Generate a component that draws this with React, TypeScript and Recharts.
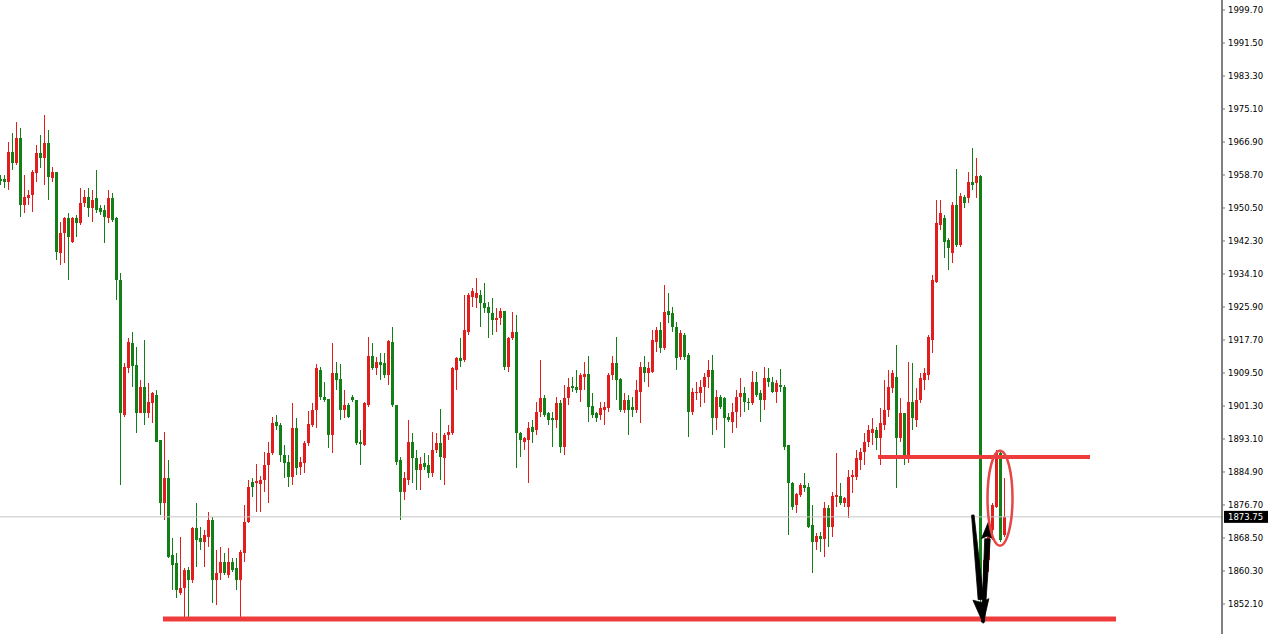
// Gold-style candle chart: ~250 candles with a right-hand price scale, support/resistance
// lines, the last-price tag and the hand-drawn arrow/ellipse annotations.
import { ComposedChart, Bar, XAxis, YAxis, ReferenceLine, ReferenceDot } from "recharts";

const W = 1270;
const H = 634;

const RED = "#e21d1d";
const GREEN = "#137f17";
const LINE_RED = "#ee3c3c";

// prices, one entry per candle
const OPEN = [
  1957.7, 1957.7, 1957.0, 1964.4, 1961.6, 1967.9, 1951.2, 1953.0, 1953.7, 1959.2,
  1964.1, 1962.9, 1966.6, 1958.0, 1959.5, 1939.3, 1944.3, 1948.0, 1942.1, 1948.0,
  1946.7, 1951.7, 1953.2, 1950.5, 1953.0, 1950.5, 1950.0, 1948.0, 1953.0, 1948.0,
  1932.6, 1899.0, 1910.8, 1916.9, 1911.5, 1899.5, 1906.0, 1899.5, 1902.0, 1904.0,
  1892.9, 1877.2, 1883.4, 1864.2, 1862.3, 1854.8, 1856.1, 1860.6, 1858.1, 1871.0,
  1868.5, 1867.5, 1868.7, 1873.0, 1858.1, 1859.8, 1862.6, 1859.3, 1862.6, 1861.1,
  1858.1, 1864.7, 1872.5, 1882.4, 1882.1, 1881.9, 1882.9, 1886.6, 1889.6, 1897.3,
  1896.5, 1889.1, 1887.4, 1883.6, 1895.9, 1886.1, 1887.1, 1892.1, 1896.5, 1900.3,
  1910.3, 1903.5, 1903.0, 1894.1, 1909.5, 1908.0, 1900.3, 1901.5, 1903.5, 1902.8,
  1892.4, 1891.6, 1901.5, 1913.7, 1910.8, 1912.2, 1912.0, 1909.0, 1917.2, 1901.5,
  1887.9, 1879.9, 1882.9, 1892.4, 1888.4, 1885.4, 1887.1, 1886.6, 1884.6, 1890.4,
  1892.1, 1888.4, 1894.1, 1894.6, 1910.3, 1913.2, 1912.7, 1919.7, 1928.4, 1928.2,
  1928.8, 1926.9, 1925.9, 1924.4, 1922.7, 1923.2, 1924.9, 1911.0, 1918.2, 1919.7,
  1894.6, 1892.4, 1892.9, 1896.0, 1895.4, 1899.8, 1903.3, 1899.5, 1898.3, 1897.8,
  1902.0, 1891.1, 1903.3, 1906.3, 1906.0, 1905.3, 1908.5, 1909.3, 1901.3, 1899.5,
  1899.0, 1900.3, 1900.8, 1909.0, 1912.0, 1908.0, 1900.3, 1902.8, 1901.0, 1900.3,
  1904.8, 1911.0, 1909.5, 1909.8, 1917.2, 1920.2, 1915.7, 1924.9, 1924.4, 1920.9,
  1913.4, 1918.9, 1913.9, 1899.8, 1904.5, 1904.5, 1906.0, 1908.5, 1910.3, 1898.3,
  1903.5, 1903.3, 1898.5, 1897.3, 1899.8, 1903.5, 1904.5, 1902.3, 1902.0, 1907.3,
  1904.5, 1902.8, 1908.3, 1907.3, 1904.8, 1906.5, 1906.0, 1891.6, 1882.1, 1876.7,
  1879.2, 1881.6, 1881.1, 1871.7, 1867.5, 1869.0, 1868.2, 1876.0, 1871.2, 1878.7,
  1879.0, 1877.2, 1876.2, 1883.6, 1883.6, 1887.9, 1889.9, 1892.4, 1894.6, 1895.4,
  1893.4, 1896.5, 1900.3, 1905.8, 1908.5, 1893.4, 1899.5, 1888.6, 1902.3, 1897.8,
  1902.8, 1907.8, 1909.0, 1917.7, 1932.1, 1946.2, 1948.0, 1942.6, 1939.3, 1951.2,
  1941.3, 1953.2, 1953.0, 1957.0, 1956.7, 1958.5, 1855.6, 1863.1, 1870.5, 1876.2,
  1889.6, 1869.2,
];

const HIGH = [
  1958.7, 1958.7, 1966.9, 1969.1, 1971.9, 1970.4, 1958.7, 1955.0, 1960.0, 1966.1,
  1968.6, 1973.6, 1969.9, 1960.7, 1959.5, 1947.0, 1948.2, 1949.2, 1948.2, 1948.7,
  1955.5, 1955.0, 1955.5, 1955.0, 1960.0, 1951.2, 1951.2, 1955.0, 1954.2, 1948.2,
  1934.3, 1912.0, 1918.2, 1919.7, 1915.9, 1907.8, 1917.7, 1907.0, 1904.8, 1905.3,
  1892.9, 1894.9, 1887.9, 1868.5, 1864.7, 1868.7, 1861.1, 1861.3, 1871.2, 1877.2,
  1871.2, 1870.5, 1875.0, 1873.7, 1865.5, 1866.2, 1864.7, 1866.0, 1863.5, 1863.5,
  1865.5, 1876.7, 1882.9, 1883.4, 1886.9, 1883.9, 1889.9, 1892.4, 1898.5, 1899.0,
  1897.0, 1891.6, 1889.1, 1902.0, 1898.3, 1888.6, 1892.6, 1900.0, 1902.0, 1911.8,
  1911.0, 1907.3, 1903.0, 1916.9, 1912.2, 1911.8, 1905.3, 1902.0, 1904.0, 1902.8,
  1895.4, 1902.3, 1918.4, 1916.9, 1913.4, 1914.4, 1914.4, 1917.7, 1920.9, 1901.5,
  1888.6, 1884.9, 1897.8, 1894.6, 1890.4, 1888.6, 1889.6, 1889.1, 1894.9, 1894.6,
  1900.5, 1894.6, 1896.5, 1911.0, 1913.4, 1918.2, 1928.8, 1929.3, 1930.6, 1933.1,
  1930.1, 1931.8, 1927.2, 1928.2, 1925.7, 1925.7, 1924.9, 1918.4, 1924.7, 1923.9,
  1894.9, 1893.6, 1897.3, 1897.8, 1902.3, 1912.7, 1904.0, 1899.8, 1899.8, 1903.5,
  1902.8, 1906.5, 1908.3, 1908.5, 1910.3, 1909.5, 1912.2, 1913.7, 1904.5, 1899.8,
  1902.3, 1902.3, 1909.5, 1913.7, 1918.4, 1908.3, 1904.5, 1904.0, 1903.5, 1907.8,
  1912.2, 1913.7, 1912.2, 1920.2, 1920.9, 1922.2, 1931.3, 1929.3, 1925.9, 1922.2,
  1920.2, 1919.4, 1914.4, 1905.8, 1907.3, 1907.8, 1909.5, 1912.7, 1913.9, 1905.3,
  1904.0, 1903.5, 1899.5, 1902.0, 1905.3, 1908.3, 1906.0, 1903.3, 1910.0, 1909.8,
  1905.3, 1911.0, 1910.8, 1908.5, 1907.8, 1910.5, 1906.5, 1891.6, 1882.4, 1879.6,
  1882.1, 1884.6, 1882.1, 1876.7, 1869.7, 1870.0, 1877.4, 1876.7, 1879.9, 1889.6,
  1882.1, 1878.7, 1885.4, 1885.4, 1890.4, 1890.9, 1894.6, 1896.5, 1898.3, 1896.0,
  1900.8, 1907.8, 1910.3, 1910.3, 1916.4, 1903.3, 1899.5, 1912.2, 1912.0, 1905.8,
  1909.5, 1910.8, 1918.9, 1933.8, 1952.5, 1952.5, 1948.7, 1943.1, 1952.0, 1960.2,
  1954.2, 1953.7, 1959.5, 1965.4, 1962.9, 1958.7, 1863.6, 1871.7, 1877.2, 1890.4,
  1890.4, 1883.4,
];

const LOW = [
  1956.2, 1955.5, 1955.0, 1960.0, 1961.1, 1948.2, 1949.2, 1951.2, 1949.5, 1957.0,
  1960.5, 1956.2, 1952.5, 1957.0, 1937.6, 1936.3, 1936.8, 1932.6, 1941.8, 1943.3,
  1946.2, 1950.7, 1948.2, 1947.0, 1949.2, 1948.7, 1941.8, 1946.7, 1947.0, 1927.7,
  1881.6, 1898.5, 1909.5, 1906.0, 1894.6, 1899.5, 1896.5, 1898.3, 1897.0, 1892.4,
  1874.2, 1873.0, 1863.5, 1855.6, 1853.6, 1854.3, 1848.8, 1848.6, 1857.3, 1861.3,
  1865.5, 1861.3, 1866.2, 1852.3, 1851.8, 1858.1, 1859.3, 1858.6, 1860.1, 1855.6,
  1848.6, 1862.6, 1872.2, 1878.7, 1875.0, 1875.0, 1879.9, 1877.2, 1889.1, 1895.4,
  1887.4, 1883.4, 1881.1, 1881.6, 1884.1, 1884.1, 1884.6, 1891.4, 1896.0, 1895.9,
  1902.8, 1902.3, 1890.9, 1889.6, 1905.3, 1897.8, 1898.3, 1898.3, 1902.3, 1891.6,
  1886.6, 1891.4, 1901.0, 1910.3, 1909.0, 1907.8, 1908.3, 1906.5, 1901.0, 1886.6,
  1873.0, 1877.9, 1881.6, 1882.1, 1880.4, 1880.4, 1885.4, 1883.4, 1883.6, 1889.6,
  1882.9, 1881.6, 1892.9, 1894.1, 1905.3, 1911.0, 1912.2, 1918.9, 1925.9, 1925.7,
  1920.9, 1924.4, 1918.2, 1918.9, 1919.7, 1921.4, 1910.3, 1909.8, 1917.7, 1885.9,
  1888.6, 1890.4, 1882.1, 1892.1, 1894.1, 1898.5, 1898.5, 1896.5, 1891.1, 1895.9,
  1889.6, 1889.1, 1901.5, 1904.8, 1904.5, 1902.3, 1905.3, 1897.3, 1898.3, 1897.3,
  1897.8, 1896.5, 1899.8, 1907.8, 1902.8, 1899.8, 1899.5, 1894.1, 1898.5, 1899.5,
  1897.0, 1907.3, 1906.0, 1909.5, 1914.7, 1914.4, 1915.2, 1921.9, 1919.7, 1910.3,
  1912.7, 1912.7, 1893.6, 1899.0, 1902.8, 1901.0, 1902.0, 1905.8, 1894.1, 1895.4,
  1900.5, 1890.9, 1897.3, 1894.6, 1895.9, 1898.5, 1899.8, 1900.3, 1901.5, 1903.5,
  1897.3, 1900.3, 1906.0, 1904.5, 1902.0, 1904.8, 1890.4, 1869.2, 1875.5, 1874.7,
  1878.7, 1879.9, 1871.0, 1859.8, 1865.5, 1865.0, 1863.7, 1866.2, 1868.7, 1876.2,
  1876.7, 1876.2, 1873.5, 1879.6, 1882.9, 1885.4, 1886.6, 1891.1, 1891.6, 1890.4,
  1886.6, 1895.4, 1898.5, 1904.5, 1880.9, 1892.4, 1886.6, 1887.1, 1895.4, 1896.0,
  1902.0, 1905.3, 1907.8, 1914.4, 1931.8, 1945.0, 1938.1, 1935.1, 1936.8, 1940.8,
  1940.8, 1950.5, 1951.7, 1955.0, 1953.0, 1852.0, 1853.1, 1860.1, 1868.0, 1876.0,
  1867.5, 1868.7,
];

const CLOSE = [
  1957.2, 1957.0, 1964.4, 1961.6, 1967.9, 1951.2, 1953.2, 1953.7, 1959.5, 1964.1,
  1962.9, 1966.6, 1958.2, 1959.5, 1939.6, 1944.3, 1948.0, 1943.3, 1948.0, 1946.7,
  1951.7, 1953.2, 1950.5, 1952.5, 1950.0, 1949.5, 1948.2, 1953.0, 1947.5, 1932.6,
  1899.5, 1911.0, 1917.2, 1911.3, 1899.5, 1906.0, 1899.5, 1902.3, 1904.5, 1892.4,
  1877.2, 1883.4, 1863.7, 1861.8, 1855.6, 1856.1, 1860.6, 1858.1, 1871.0, 1868.0,
  1867.5, 1869.2, 1873.0, 1858.1, 1859.8, 1862.6, 1859.8, 1862.6, 1860.6, 1858.1,
  1865.0, 1872.5, 1881.1, 1881.1, 1882.6, 1882.9, 1886.6, 1889.6, 1897.0, 1896.3,
  1889.1, 1887.1, 1883.6, 1895.9, 1885.9, 1887.4, 1892.1, 1896.8, 1900.3, 1910.8,
  1903.5, 1902.8, 1894.1, 1909.5, 1907.8, 1900.3, 1901.5, 1898.5, 1902.8, 1892.1,
  1891.9, 1902.0, 1913.7, 1910.8, 1912.2, 1911.5, 1909.0, 1917.4, 1901.5, 1887.4,
  1879.9, 1883.4, 1892.4, 1888.4, 1885.4, 1886.9, 1886.1, 1884.6, 1890.4, 1892.1,
  1888.6, 1894.1, 1894.9, 1910.8, 1913.2, 1912.4, 1920.2, 1928.8, 1929.8, 1929.3,
  1926.9, 1925.7, 1924.4, 1922.7, 1923.2, 1924.9, 1911.0, 1918.2, 1919.7, 1894.6,
  1892.9, 1893.4, 1895.9, 1894.9, 1899.8, 1903.3, 1899.0, 1897.8, 1897.8, 1902.0,
  1891.1, 1903.3, 1906.0, 1905.8, 1905.3, 1909.0, 1909.3, 1901.0, 1899.0, 1898.3,
  1900.8, 1901.0, 1909.0, 1912.0, 1907.8, 1900.3, 1902.8, 1900.3, 1900.3, 1905.3,
  1911.0, 1909.5, 1910.8, 1917.7, 1920.2, 1915.7, 1924.7, 1923.9, 1920.9, 1913.2,
  1919.4, 1913.4, 1899.8, 1904.8, 1904.8, 1906.0, 1908.5, 1910.3, 1898.3, 1903.5,
  1901.0, 1898.3, 1897.8, 1899.8, 1903.5, 1904.5, 1902.3, 1902.0, 1907.3, 1904.0,
  1902.8, 1908.3, 1907.3, 1904.8, 1907.0, 1906.0, 1891.1, 1882.1, 1876.2, 1879.5,
  1881.6, 1880.9, 1871.2, 1867.5, 1869.0, 1868.2, 1876.0, 1871.2, 1879.0, 1879.2,
  1877.2, 1878.5, 1883.6, 1884.1, 1888.4, 1889.9, 1892.4, 1895.4, 1895.6, 1893.4,
  1897.0, 1900.3, 1906.0, 1909.5, 1893.4, 1899.5, 1888.6, 1902.3, 1898.3, 1902.8,
  1908.3, 1909.5, 1918.4, 1932.6, 1946.7, 1949.2, 1942.1, 1940.6, 1951.2, 1941.3,
  1953.5, 1951.7, 1957.0, 1956.2, 1958.5, 1855.6, 1863.1, 1870.5, 1876.7, 1889.6,
  1868.0, 1873.75,
];

const PRICE_TICKS = [
  1999.7, 1991.5, 1983.3, 1975.1, 1966.9, 1958.7, 1950.5, 1942.3, 1934.1, 1925.9,
  1917.7, 1909.5, 1901.3, 1893.1, 1884.9, 1876.7, 1868.5, 1860.3, 1852.1,
];
const PRICE_DOMAIN: [number, number] = [1844.645, 2002.185];
const SLOT_DOMAIN: [number, number] = [0, 305.5];

const LAST_PRICE = 1873.75;
const SUPPORT = 1848.4;
const RESISTANCE = 1888.6;

const data = OPEN.map((o, i) => ({ i, o, h: HIGH[i], l: LOW[i], c: CLOSE[i] }));

function Candle(props: any) {
  const { x, y, width, height, payload } = props;
  if (!payload || x == null || y == null || height == null) return null;
  const top = Math.min(y, y + height);
  const span = Math.abs(height);
  const range = payload.h - payload.l;
  const toPx = (v: number) => top + (range > 0 ? ((payload.h - v) / range) * span : 0);
  const color = payload.c >= payload.o ? RED : GREEN;
  const cx = Math.round(x + width / 2);
  const bTop = toPx(Math.max(payload.o, payload.c));
  const bBot = toPx(Math.min(payload.o, payload.c));
  return (
    <g shapeRendering="crispEdges">
      <line x1={cx + 0.5} x2={cx + 0.5} y1={top} y2={top + span} stroke={color} strokeWidth={1} />
      <rect x={cx - 1} y={bTop} width={3} height={Math.max(1, bBot - bTop)} fill={color} />
    </g>
  );
}

// tapered shaft + triangular head, drawn along a reference segment
function Arrow(props: any) {
  const { x1, y1, x2, y2, head, half, w0, w1 } = props;
  if ([x1, y1, x2, y2].some((v) => v == null)) return null;
  const dx = x2 - x1;
  const dy = y2 - y1;
  const len = Math.hypot(dx, dy) || 1;
  const ux = dx / len;
  const uy = dy / len;
  const px = -uy;
  const py = ux;
  const bx = x2 - ux * head;
  const by = y2 - uy * head;
  const shaft = [
    [x1 + (px * w0) / 2, y1 + (py * w0) / 2],
    [bx + (px * w1) / 2, by + (py * w1) / 2],
    [bx - (px * w1) / 2, by - (py * w1) / 2],
    [x1 - (px * w0) / 2, y1 - (py * w0) / 2],
  ];
  const tip = [
    [x2, y2],
    [bx + px * half, by + py * half],
    [bx + ux * 3, by + uy * 3],
    [bx - px * half, by - py * half],
  ];
  const pts = (a: number[][]) => a.map((p) => p.join(",")).join(" ");
  return (
    <g>
      <polygon points={pts(shaft)} fill="#000" stroke="#000" strokeWidth={0.8} strokeLinejoin="round" />
      <polygon points={pts(tip)} fill="#000" stroke="#000" strokeWidth={0.8} strokeLinejoin="round" />
    </g>
  );
}

function PriceTag(props: any) {
  const vb = props.viewBox;
  if (!vb) return null;
  const x = vb.x + vb.width + 2;
  return (
    <g>
      <rect x={x} y={vb.y - 6} width={44} height={12} fill="#000" />
      <text
        x={x + 4}
        y={vb.y + 0.5}
        fill="#fff"
        fontSize={8.5}
        fontFamily="DejaVu Sans, sans-serif"
        dominantBaseline="central"
      >
        {LAST_PRICE.toFixed(2)}
      </text>
    </g>
  );
}

export default function App() {
  return (
    <div style={{ width: W, height: H, background: "#fff" }}>
      <style>{"body{margin:0;background:#fff}"}</style>
      <ComposedChart width={W} height={H} data={data} margin={{ top: 0, right: 0, bottom: 0, left: 0 }}>
        <XAxis dataKey="i" type="number" domain={SLOT_DOMAIN} allowDataOverflow hide />
        <YAxis
          orientation="right"
          width={48}
          domain={PRICE_DOMAIN}
          allowDataOverflow
          ticks={PRICE_TICKS}
          interval={0}
          tickFormatter={(v: number) => v.toFixed(2)}
          tick={{ fontSize: 8.5, fill: "#000", fontFamily: "DejaVu Sans, sans-serif" }}
          tickSize={3}
          tickMargin={3}
          tickLine={{ stroke: "#777" }}
          axisLine={{ stroke: "#000" }}
        />
        <ReferenceLine y={LAST_PRICE} stroke="#c4c4c4" strokeWidth={1} label={(p: any) => <PriceTag {...p} />} />
        <Bar
          dataKey={(d: any) => [d.l, d.h]}
          barSize={3}
          isAnimationActive={false}
          shape={(p: any) => <Candle {...p} />}
        />
        <ReferenceLine
          segment={[{ x: 40.75, y: SUPPORT }, { x: 279, y: SUPPORT }]}
          stroke={LINE_RED}
          strokeWidth={5}
        />
        <ReferenceLine
          segment={[{ x: 219.5, y: RESISTANCE }, { x: 272.5, y: RESISTANCE }]}
          stroke={LINE_RED}
          strokeWidth={4}
        />
        <ReferenceDot
          x={250}
          y={1878.4}
          r={1}
          shape={(p: any) => (
            <ellipse cx={p.cx} cy={p.cy} rx={12.5} ry={47.5} fill="none" stroke="#e64646" strokeWidth={2.5} />
          )}
        />
        <ReferenceLine
          segment={[{ x: 243.2, y: 1874.2 }, { x: 245.8, y: 1847.3 }]}
          shape={(p: any) => <Arrow {...p} head={24} half={8} w0={2.5} w1={5.5} />}
        />
        <ReferenceLine
          segment={[{ x: 245.75, y: 1847.6 }, { x: 247.1, y: 1872.5 }]}
          shape={(p: any) => <Arrow {...p} head={17} half={6} w0={3} w1={5.5} />}
        />
      </ComposedChart>
    </div>
  );
}
